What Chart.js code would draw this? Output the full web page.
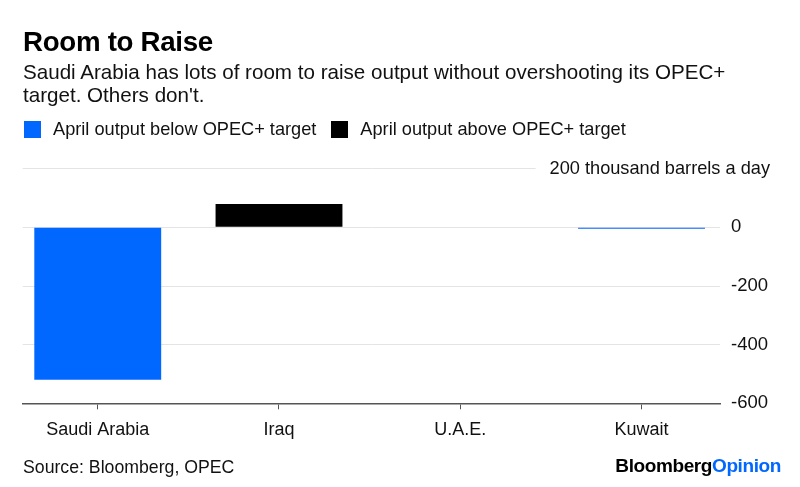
<!DOCTYPE html>
<html>
<head>
<meta charset="utf-8">
<script src="https://cdn.jsdelivr.net/npm/chart.js@4"></script>
<style>
  body { margin: 0; background: #fff; font-family: "Liberation Sans", Arial, sans-serif; color: #111; }
  #wrap { position: relative; width: 800px; height: 487px; overflow: hidden; }
  #myChart { position: absolute; left: 0; top: 0; }
  .abs { position: absolute; white-space: nowrap; }
  #title { left: 23px; top: 28px; font-size: 27.7px; line-height: 27px; font-weight: bold; color: #000; letter-spacing: -0.3px; }
  #subtitle { left: 23px; top: 60px; font-size: 20.6px; line-height: 23px; }
  #legend { left: 24px; top: 119px; font-size: 18.2px; line-height: 20px; }
  .leg-item { display: inline-block; margin-right: 15px; }
  .leg-box { display: inline-block; width: 17px; height: 17px; vertical-align: -3px; margin-right: 12px; }
  #source { left: 23px; top: 457px; font-size: 17.7px; line-height: 20px; }
  #logo { right: 19px; top: 456px; font-size: 19px; line-height: 20px; font-weight: bold; letter-spacing: -0.4px; color: #000; }
  #logo span { color: #0068ff; }
</style>
</head>
<body>
<div id="wrap">
  <canvas id="myChart" width="800" height="487"></canvas>
  <div class="abs" id="title">Room to Raise</div>
  <div class="abs" id="subtitle">Saudi Arabia has lots of room to raise output without overshooting its OPEC+<br>target. Others don't.</div>
  <div class="abs" id="legend"></div>
  <div class="abs" id="source">Source: Bloomberg, OPEC</div>
  <div class="abs" id="logo">Bloomberg<span>Opinion</span></div>
</div>
<script>
// data
const categories = ["Saudi Arabia", "Iraq", "U.A.E.", "Kuwait"];
const belowTarget = [-520, null, null, -5];
const aboveTarget = [null, 80, null, null];
const seriesLabels = ["April output below OPEC+ target", "April output above OPEC+ target"];
const seriesColors = ["#0068ff", "#000000"];
const yTicks = [200, 0, -200, -400, -600];
const unitLabel = "200 thousand barrels a day";

// legend
var legendHtml = "";
for (var i = 0; i < seriesLabels.length; i++) {
  legendHtml += '<span class="leg-item"><span class="leg-box" style="background:' + seriesColors[i] + '"></span>' + seriesLabels[i] + "</span>";
}
document.getElementById("legend").innerHTML = legendHtml;

function toPoints(values) {
  return values.map(function (v, i) {
    return { x: i, y: v };
  });
}

// top tick label sits on the gridline with a white gap
const unitLabelPlugin = {
  id: "unitLabel",
  afterDraw: function (chart) {
    const c = chart.ctx;
    const y = chart.scales.y.getPixelForValue(yTicks[0]);
    c.save();
    c.font = "18.2px 'Liberation Sans', Arial, sans-serif";
    const w = c.measureText(unitLabel).width;
    c.fillStyle = "#fff";
    c.fillRect(770 - w - 14, y - 3, w + 30, 6);
    c.fillStyle = "#111";
    c.textAlign = "right";
    c.textBaseline = "middle";
    c.fillText(unitLabel, 770, y);
    c.restore();
  },
};

const ctx = document.getElementById("myChart").getContext("2d");
const myChart = new Chart(ctx, {
  type: "bar",
  data: {
    datasets: [
      {
        label: seriesLabels[0],
        data: toPoints(belowTarget),
        backgroundColor: seriesColors[0],
      },
      {
        label: seriesLabels[1],
        data: toPoints(aboveTarget),
        backgroundColor: seriesColors[1],
      },
    ],
  },
  options: {
    responsive: false,
    animation: false,
    grouped: false,
    categoryPercentage: 1,
    barPercentage: 0.7,
    layout: {
      padding: { left: 22.7, top: 168.7, right: 0, bottom: 0 },
    },
    scales: {
      x: {
        type: "linear",
        offset: false,
        min: -0.414,
        max: 3.433,
        afterBuildTicks: function (scale) {
          scale.ticks = categories.map(function (c, i) {
            return { value: i };
          });
        },
        grid: {
          offset: false,
          drawOnChartArea: false,
          drawTicks: true,
          tickLength: 6,
          color: "#555",
        },
        border: {
          color: "#555",
          width: 1.5,
        },
        ticks: {
          autoSkip: false,
          maxRotation: 0,
          padding: 10,
          color: "#111",
          font: { family: "'Liberation Sans', Arial, sans-serif", size: 18 },
          callback: function (value) {
            return categories[Math.round(value)] || "";
          },
        },
        afterFit: function (scale) {
          scale.height = 83.7;
        },
      },
      y: {
        position: "right",
        min: -600,
        max: 200,
        grid: {
          color: "#e4e4e4",
          drawTicks: false,
        },
        border: { display: false },
        ticks: {
          stepSize: 200,
          padding: 11,
          color: "#111",
          font: { family: "'Liberation Sans', Arial, sans-serif", size: 18.5 },
          callback: function (value) {
            return value === yTicks[0] ? "" : value;
          },
        },
        afterFit: function (scale) {
          scale.width = 80;
        },
      },
    },
    plugins: {
      legend: { display: false },
      tooltip: { enabled: false },
    },
  },
  plugins: [unitLabelPlugin],
});
</script>
</body>
</html>
